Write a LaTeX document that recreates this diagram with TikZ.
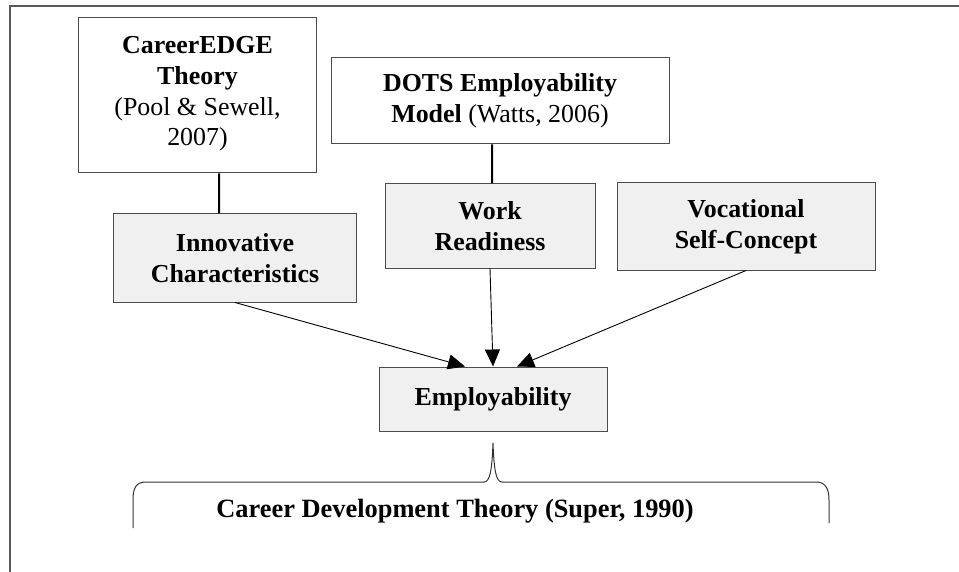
\documentclass[tikz,border=0pt]{standalone}
\usepackage{fontspec}
\setmainfont{Liberation Serif}
\usetikzlibrary{arrows.meta}

\begin{document}
\begin{tikzpicture}[x=1bp,y=-1bp,
  box/.style={draw=black!70,line width=1bp,fill=#1,align=center,inner sep=0pt,
    font=\fontsize{26}{31}\selectfont},
  box/.default=black!6,
  link/.style={line width=2bp},
  arr/.style={line width=0.9bp,-{Triangle[length=17bp,width=15bp]}}]
\useasboundingbox (0,0) rectangle (959,572);
\draw[line width=1.5bp,black!65] (10,590) -- (10,6) -- (975,6);
% theory boxes
\node [box=white,minimum width=237bp,minimum height=155bp] (ce) at (197.5,95.5)
  {\textbf{CareerEDGE}\\\textbf{Theory}\\(Pool \& Sewell,\\2007)\\[-22bp]};
\node [box=white,minimum width=338bp,minimum height=86bp] (dots) at (500,101)
  {\textbf{DOTS Employability}\\\textbf{Model} (Watts, 2006)};
% factors
\node [box,minimum width=242bp,minimum height=88bp] (inn) at (235,258)
  {\textbf{Innovative}\\\textbf{Characteristics}};
\node [box,minimum width=210bp,minimum height=84bp] (wr) at (490,226)
  {\textbf{Work}\\\textbf{Readiness}};
\node [box,minimum width=258bp,minimum height=87bp] (voc) at (746,226.5)
  {\textbf{Vocational}\\\textbf{Self-Concept}};
\node [box,minimum width=228bp,minimum height=64bp] (emp) at (493,399)
  {\textbf{Employability}};
\draw [link] ([xshift=21.5bp]ce.south) -- ([xshift=-16bp]inn.north);
\draw [link] ([xshift=-8bp]dots.south) -- ([xshift=2bp]wr.north);
\draw [arr] (inn.south) -- ([xshift=-28bp]emp.north);
\draw [arr] (wr.south) -- (emp.north);
\draw [arr] (voc.south) -- ([xshift=24bp]emp.north);
% brace
\draw [line width=1bp,black!80] (133,528) -- (133,500) .. controls (133,488) and (136,482) .. (146,482)
  -- (484,482) .. controls (490,482) and (492,470) .. (493,443)
  .. controls (494,470) and (496,482) .. (502,482) -- (816,482)
  .. controls (825,482) and (829,488) .. (829,500) -- (829,523);
\node [anchor=base,font=\bfseries\fontsize{26.5}{30}\selectfont] (cdt) at (455,517)
  {Career Development Theory (Super, 1990)};
\end{tikzpicture}
\end{document}
